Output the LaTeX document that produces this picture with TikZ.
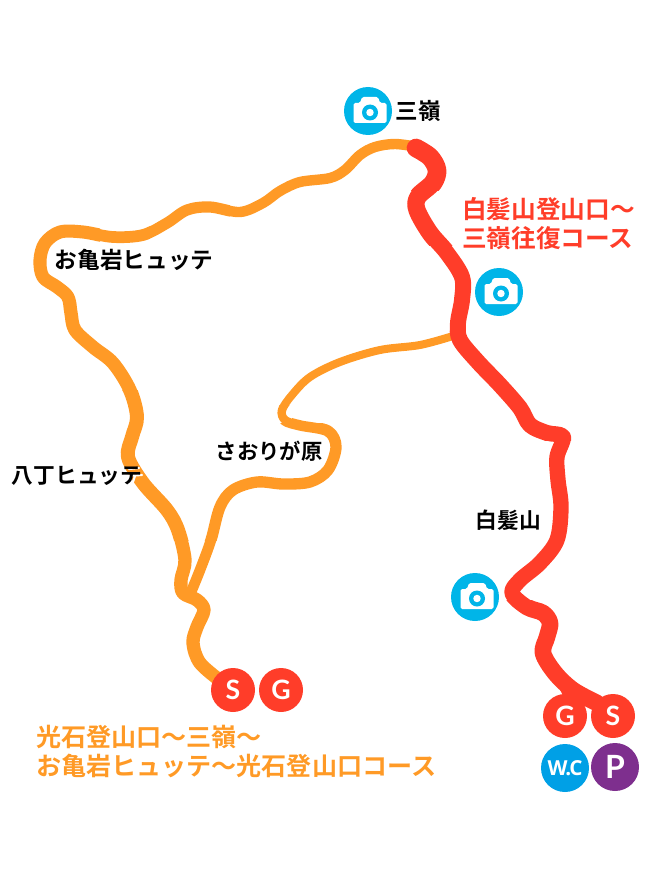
\documentclass[tikz,border=0pt]{standalone}
\usepackage{fontspec}
\setmainfont{Noto Sans CJK JP}
\newfontfamily\jpfont{Noto Sans CJK JP}[BoldFont={Noto Sans CJK JP Bold}]
\newfontfamily\badgefont{Lato}
\newfontfamily\wcfont{Open Sans}[LetterSpace=-5]
\definecolor{trailorange}{HTML}{FF9A26}
\definecolor{trailred}{HTML}{FF3D29}
\definecolor{camblue}{HTML}{00B5E8}
\definecolor{wcblue}{HTML}{00A0E6}
\definecolor{pkpurple}{HTML}{7E2F8E}
\newcommand\orangeMainRoute{plot[smooth,tension=0.55] coordinates {(222,682)(200,663)(193,643)(197,627)(204,610)(197,600)(183,593)(181,580)(185,560)(178,530)(167,510)(143,483)(128,457)(132,437)(137,417)(130,390)(113,363)(93,347)(75,330)(71,313)(68,297)(57,287)(43,277)(40,260)(45,243)(60,232)(83,232)(113,237)(143,235)(167,223)(187,210)(210,207)(240,212)(263,203)(280,191)(300,182)(330,178)(345,170)(360,155)(375,147)(395,144)(418,147)}}
\newcommand\orangeBranchRoute{plot[smooth,tension=0.55] coordinates {(453,336)(420,345)(380,350)(340,362)(310,377)(292,395)(282,410)(285,420)(300,425)(328,431)(336,447)(328,470)(310,482)(283,484)(257,482)(233,490)(220,507)(211,540)(200,570)(189,597)}}
\newcommand\redMainRoute{plot[smooth,tension=0.55] coordinates {(416,148)(430,157)(437,170)(433,183)(418,197)(417,210)(430,233)(447,253)(462,277)(462,300)(458,323)(460,340)(478,362)(500,385)(520,408)(530,425)(547,433)(563,437)(557,457)(558,480)(561,507)(557,540)(540,563)(520,580)(512,593)(527,607)(543,613)(550,623)(547,637)(543,653)(555,673)(573,690)(597,703)}}
\tikzset{
  trailo/.style={draw=trailorange,line cap=round,line join=round},
  trailr/.style={draw=trailred,line cap=round,line join=round},
  badge/.style={circle,draw=none,inner sep=0,minimum size=44*0.75pt,text=white,font=\badgefont\bfseries\fontsize{20}{20}\selectfont},
  bigbadge/.style={circle,draw=none,inner sep=0,minimum size=48*0.75pt,text=white},
  placelabel/.style={inner sep=0,text=black,font=\jpfont\bfseries\fontsize{#1}{#1}\selectfont},
  courselabel/.style={inner sep=0,align=left,font=\jpfont\bfseries\fontsize{#1}{21.75}\selectfont},
  cambadge/.style={circle,fill=camblue,draw=none,inner sep=0,minimum size=48*0.75pt},
  camera/.pic={
    \fill[white,rounded corners=1.2pt] (-14.5,-8) -- (-8,-8) -- (-6,-14) -- (10,-14) -- (12,-8) -- (18.5,-8) -- (18.5,12) -- (-14.5,12) -- cycle;
    \fill[camblue] (2,1.5) circle[radius=6pt];
    \fill[white] (2,1.5) circle[radius=2.8pt];
  }
}
\begin{document}
\begin{tikzpicture}[x=0.75pt,y=-0.75pt]
\useasboundingbox (0,0) rectangle (660,895);
% orange branch
\begin{scope}\clip (0,0) rectangle (660,405); \draw[trailo,line width=6pt] \orangeBranchRoute;\end{scope}
\begin{scope}\clip (0,405) rectangle (292,423); \draw[trailo,line width=6.3pt] \orangeBranchRoute;\end{scope}
\begin{scope}\clip (292,405) rectangle (660,423); \draw[trailo,line width=7.2pt] \orangeBranchRoute;\end{scope}
\begin{scope}\clip (0,423) rectangle (660,540); \draw[trailo,line width=8.5pt] \orangeBranchRoute;\end{scope}
\begin{scope}\clip (0,540) rectangle (660,895); \draw[trailo,line width=8pt] \orangeBranchRoute;\end{scope}
% orange main loop
\begin{scope}\clip (230,0) rectangle (660,300); \draw[trailo,line width=7.8pt] \orangeMainRoute;\end{scope}
\begin{scope}\clip (150,0) rectangle (230,300); \draw[trailo,line width=8.4pt] \orangeMainRoute;\end{scope}
\begin{scope}\clip (100,0) rectangle (150,300); \draw[trailo,line width=8.8pt] \orangeMainRoute;\end{scope}
\begin{scope}\clip (0,0) rectangle (100,300); \draw[trailo,line width=9.8pt] \orangeMainRoute;\end{scope}
\begin{scope}\clip (0,300) rectangle (660,390); \draw[trailo,line width=10pt] \orangeMainRoute;\end{scope}
\begin{scope}\clip (0,390) rectangle (660,540); \draw[trailo,line width=10.5pt] \orangeMainRoute;\end{scope}
\begin{scope}\clip (0,540) rectangle (660,895); \draw[trailo,line width=10pt] \orangeMainRoute;\end{scope}
% red course
\begin{scope}\clip (0,0) rectangle (660,190); \draw[trailr,line width=14pt] \redMainRoute;\end{scope}
\begin{scope}\clip (0,190) rectangle (660,245); \draw[trailr,line width=13pt] \redMainRoute;\end{scope}
\begin{scope}\clip (0,245) rectangle (660,440); \draw[trailr,line width=12pt] \redMainRoute;\end{scope}
\begin{scope}\clip (0,440) rectangle (660,600); \draw[trailr,line width=11.5pt] \redMainRoute;\end{scope}
\begin{scope}\clip (0,600) rectangle (660,895); \draw[trailr,line width=12.5pt] \redMainRoute;\end{scope}
\draw[trailr,line width=10pt] plot[smooth,tension=0.55] coordinates {(555,673)(565,685)(572,700)};
% camera badges
\node[cambadge] (camA) at (368,111) {};
\pic at (camA.center) {camera};
\node[cambadge] (camB) at (499,292) {};
\pic at (camB.center) {camera};
\node[cambadge] (camC) at (475,597) {};
\pic at (camC.center) {camera};
% start / goal badges
\node[badge,fill=trailred] (sL) at (233,690) {S};
\node[badge,fill=trailred] (gL) at (281,690) {G};
\node[badge,fill=trailred] (gR) at (565,716) {G};
\node[badge,fill=trailred] (sR) at (613,716) {S};
\node[bigbadge,fill=wcblue,font=\wcfont\bfseries\fontsize{15.5}{15.5}\selectfont] (wc) at (565,768) {W.C};
\node[bigbadge,fill=pkpurple,font=\badgefont\bfseries\fontsize{24}{24}\selectfont] (park) at (615,767) {P};
% white halo under the last label character where it meets the trail
\draw[white,line width=1.6pt,line cap=round] (129,469) -- (139,468);
\draw[white,line width=1.6pt,line cap=round] (126,476) -- (142,475);
\draw[white,line width=1.6pt,line cap=round] (135,476) -- (132,485);
% place labels
\node[placelabel=16.9,anchor=center] (sanrei) at (418.5,111) {三嶺};
\node[placelabel=17,anchor=center] (okame) at (134,260) {お亀岩ヒュッテ};
\node[placelabel=16.3,anchor=center] (hatcho) at (77,476) {八丁ヒュッテ};
\node[placelabel=16,anchor=center] (saori) at (269,451) {さおりが原};
\node[placelabel=16.3,anchor=center] (shiraga) at (508.5,520) {白髪山};
% course labels
\node[courselabel=18.5,text=trailred,anchor=center] (redcourse) at (548.5,223.5) {白髪山登山口～\\三嶺往復コース};
\node[courselabel=18.8,text=trailorange,anchor=west] (orangecourse) at (36,751.5) {光石登山口～三嶺～\\お亀岩ヒュッテ～光石登山口コース};
\end{tikzpicture}
\end{document}
